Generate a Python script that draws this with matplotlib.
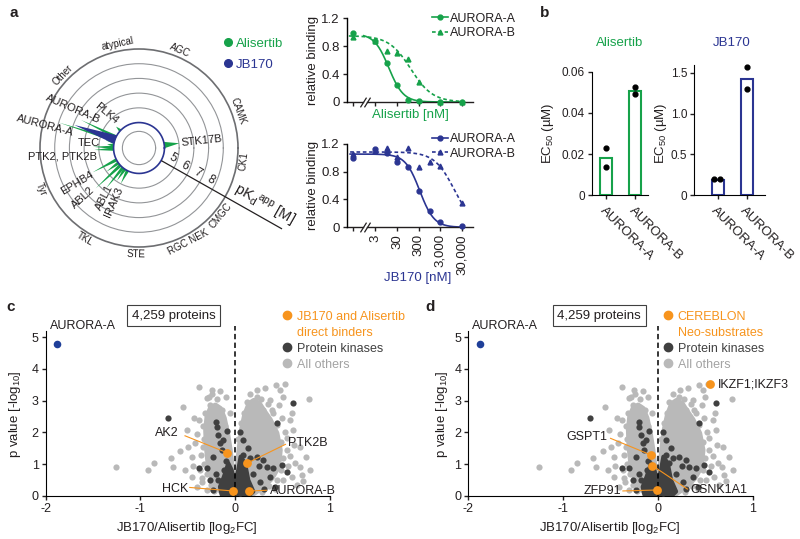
import numpy as np
import matplotlib
matplotlib.use('Agg')
import matplotlib.pyplot as plt
from matplotlib.lines import Line2D

plt.rcParams['font.family'] = ['Liberation Sans', 'DejaVu Sans']
plt.rcParams['mathtext.fontset'] = 'custom'
plt.rcParams['mathtext.rm'] = 'Liberation Sans'
plt.rcParams['mathtext.it'] = 'Liberation Sans:italic'
plt.rcParams['mathtext.bf'] = 'Liberation Sans:bold'
plt.rcParams['axes.unicode_minus'] = False

# ======================= DATA =======================
# (a) kinome target profile: angle on kinome tree circle (deg), pKd app
ali_kinases = ['AURORA-A', 'AURORA-B', 'PLK4', 'TEC', 'TEC-2', 'PTK2', 'PTK2B',
               'EPHB4', 'ABL2', 'ABL1', 'ABL-x', 'IRAK3', 'IRAK-x', 'STK17B']
ali_angle = [162.4, 154.2, 137.0, 167.0, 173.5, 178.5, 182.5,
             207.7, 223.0, 230.7, 216.0, 243.0, 236.0, 6.7]
ali_pkd = [8.0, 6.65, 4.4, 4.6, 4.45, 5.4, 5.3,
           5.83, 6.3, 5.8, 5.0, 5.0, 4.95, 5.03]
jb_kinases = ['AURORA-A']
jb_angle = [160.4]
jb_pkd = [6.94]
families = ['atypical', 'AGC', 'CAMK', 'CK1', 'CMGC', 'RGC NEK', 'STE', 'TKL', 'Tyr', 'Other']
family_angle = [101.7, 67.3, 20.1, -7.3, -39.4, -62.5, -91.6, -120.7, -157.3, 136.3]
ring_pkd = [5, 6, 7, 8]

# (a) dose response
conc_ali = [0, 3, 10, 30, 100, 300, 3000, 30000]
ali_aurA = [0.99, 0.87, 0.56, 0.24, 0.03, 0.01, 0.0, 0.0]
ali_aurB = [0.93, 0.87, 0.73, 0.70, 0.61, 0.29, 0.0, 0.0]
ali_fit_top = [0.98, 0.95]
ali_fit_ec50 = [12.5, 130.0]
ali_fit_hill = [1.29, 0.86]

conc_jb = [0, 3, 10, 30, 100, 300, 1000, 3000, 30000]
jb_aurA = [1.0, 1.12, 1.07, 0.93, 0.87, 0.52, 0.23, 0.07, 0.02]
jb_aurB = [1.05, 1.10, 1.14, 1.01, 1.14, 0.86, 0.94, 0.88, 0.35]
jb_fit_top = [1.05, 1.08]
jb_fit_ec50 = [340.0, 13700.0]
jb_fit_hill = [1.3, 0.94]

# (b) EC50 values (uM)
b_targets = ['AURORA-A', 'AURORA-B']
ali_ec50 = [0.018, 0.0507]
ali_rep1 = [0.0230, 0.0524]
ali_rep2 = [0.0138, 0.0490]
jb_ec50 = [0.19, 1.42]
jb_rep1 = [0.20, 1.57]
jb_rep2 = [0.20, 1.30]

# (c, d) volcano: log2FC, -log10 p
others_x = [-1.258, -0.917, -0.857, -0.681, -0.653, -0.583, -0.555, -0.432, -0.383, -0.530,
            -0.460, -0.372, -0.425, -0.513, -0.302, -0.267, -0.337, -0.460, -0.407, -0.302,
            -0.355, 0.233, 0.314, 0.430, 0.525, 0.472, 0.781, 0.366, 0.384, 0.489,
            0.577, 0.612, 0.542, 0.683, 0.746, 0.630, 0.788, 0.700, 0.595, 0.507,
            0.648, 0.542, 0.437, 0.226, 0.296, 0.331, 0.191, -0.33, -0.34, -0.32,
            -0.28, -0.24, -0.19, -0.14, -0.11, -0.36, -0.33, -0.30, -0.26, -0.22,
            -0.40, -0.38, -0.35, -0.45, -0.50, -0.25, 0.06, 0.09, 0.12, 0.16,
            0.27, 0.48, 0.50, 0.48, 0.44, 0.36, 0.28, 0.52, 0.40, 0.35,
            0.58, 0.62, 0.56, 0.42, 0.68, 0.72, 0.46, 0.50, 0.20, 0.03,
            -0.06, -0.10, -0.16, 0.60]
others_y = [0.91, 0.81, 1.04, 1.18, 0.91, 1.41, 2.79, 2.45, 3.44, 0.81,
            0.60, 0.81, 1.65, 2.07, 3.07, 2.86, 1.55, 1.23, 0.28, 0.18,
            0.55, 3.35, 3.39, 3.49, 3.54, 3.33, 3.04, 3.02, 2.70, 2.44,
            2.39, 2.07, 1.81, 1.55, 1.23, 1.02, 0.81, 0.65, 0.60, 0.49,
            0.34, 1.44, 2.23, 3.12, 2.70, 2.33, 2.81, 1.80, 2.20, 2.60,
            3.10, 3.20, 3.05, 2.70, 2.20, 1.30, 1.00, 0.70, 0.35, 0.15,
            1.95, 2.40, 0.42, 0.95, 1.55, 3.35, 2.30, 2.60, 2.95, 3.20,
            3.05, 1.70, 1.20, 0.80, 0.50, 0.30, 0.12, 2.00, 2.60, 2.90,
            1.25, 1.60, 0.95, 0.20, 0.90, 0.45, 2.85, 3.10, 3.00, 1.80,
            2.60, 3.10, 3.30, 2.60]
others_core_x = [-0.003, -0.126, -0.196, -0.249, -0.284, -0.302, -0.309, -0.295, -0.26, -0.21,
                 -0.16, -0.119, -0.084, -0.056, -0.031, -0.003, 0.022, 0.043, 0.068, 0.103,
                 0.148, 0.198, 0.254, 0.296, 0.366, 0.437, 0.472, 0.454, 0.384, 0.296, 0.191]
others_core_y = [0.02, 0.05, 0.28, 0.60, 1.02, 1.55, 2.07, 2.49, 2.75, 2.85,
                 2.75, 2.45, 1.97, 1.44, 0.81, 0.49, 0.81, 1.44, 2.07, 2.55,
                 2.90, 3.00, 2.90, 2.70, 2.40, 1.97, 1.44, 0.91, 0.55, 0.28, 0.07]
kin_x = [-0.713, 0.612, 0.437, -0.203, -0.196, -0.179, -0.161, -0.143, -0.231, -0.302,
         -0.379, -0.267, -0.179, -0.231, 0.050, 0.085, 0.138, 0.226, 0.296, 0.331,
         0.402, 0.489, 0.542, 0.366, 0.261, 0.191, 0.120, 0.419, 0.120, -0.10,
         -0.12, 0.08, 0.16, -0.06, 0.05, -0.20, 0.25, 0.30, -0.09, -0.13]
kin_y = [2.44, 2.91, 2.28, 2.33, 2.18, 1.91, 1.65, 1.44, 1.23, 0.86,
         0.86, 0.49, 0.49, 0.18, 2.02, 1.76, 1.49, 1.23, 1.13, 0.91,
         0.86, 0.97, 0.76, 0.60, 0.44, 0.70, 0.39, 0.28, 1.02, 1.10,
         0.80, 1.30, 1.20, 0.15, 0.10, 0.70, 0.95, 0.20, 2.05, 1.75]
kin_core_x = [-0.143, -0.161, -0.119, -0.073, -0.038, -0.003, 0.032, 0.057, 0.103, 0.138, 0.191, 0.155]
kin_core_y = [0.03, 0.28, 0.60, 1.02, 0.81, 0.39, 0.81, 1.23, 1.02, 0.49, 0.13, 0.03]
aurA_fc = [-1.88]
aurA_p = [4.78]
c_hits = ['AK2', 'PTK2B', 'HCK', 'AURORA-B']
c_hits_x = [-0.09, 0.12, -0.027, 0.148]
c_hits_y = [1.36, 1.02, 0.15, 0.15]
d_hits = ['IKZF1;IKZF3', 'GSPT1', 'CSNK1A1', 'ZFP91']
d_hits_x = [0.55, -0.07, -0.059, -0.014]
d_hits_y = [3.52, 1.28, 0.95, 0.18]

# ======================= STYLE / LAYOUT =======================
GREEN = '#16a24a'
BLUE = '#2b3592'
VBLUE = '#1f3f99'
ORANGE = '#f7941d'
DARK = '#404040'
LIGHT = '#b9b9b9'
TXT = '#231f20'
W, H = 800, 539

fig = plt.figure(figsize=(8, 5.39), dpi=100)


def P(x, y):
    return (x / W, 1 - y / H)


def rect(l, t, r, b):
    return [l / W, 1 - b / H, (r - l) / W, (b - t) / H]


def ftext(x, y, s, **kw):
    kw.setdefault('color', TXT)
    return fig.text(x / W, 1 - y / H, s, **kw)


# ---------------- panel a : kinome circle ----------------
R0, RMAX = 2.27, 9.0
CX, CY, RPX = 139, 148, 99
PXU = RPX / (RMAX - R0)
axp = fig.add_axes(rect(CX - RPX, CY - RPX, CX + RPX, CY + RPX), projection='polar')
axp.set_ylim(R0, RMAX)
axp.set_xticks([])
axp.set_yticks([3.4] + ring_pkd)
axp.set_yticklabels([])
axp.tick_params(axis='y', length=0)
axp.xaxis.grid(False)
axp.yaxis.grid(True, color='#939598', lw=0.8, ls='-')
axp.spines['polar'].set_color('#6d6e71')
axp.spines['polar'].set_linewidth(1.2)
axp.patch.set_alpha(0)

th_ring = np.linspace(0, 2 * np.pi, 400)
axp.plot(th_ring, np.full_like(th_ring, 4.0), color=BLUE, lw=1.2, zorder=4)


def spike(theta_deg, pkd, color, half_px):
    th = np.deg2rad(theta_deg)
    dth = half_px / ((4.0 - R0) * PXU)
    axp.fill([th - dth, th, th + dth], [4.0, pkd, 4.0], color=color, lw=0, zorder=3)


for a, p, n in zip(ali_angle, ali_pkd, ali_kinases):
    spike(a, p, GREEN, 3.2 if n == 'STK17B' else 1.7)
for a, p in zip(jb_angle, jb_pkd):
    spike(a, p, BLUE, 4.5)

ANG = np.deg2rad(-29.5)


def line_pt(along, perp):
    d = np.hypot(along, perp)
    return ANG + np.arctan2(perp, along), R0 + d / PXU


axp.plot([ANG, ANG], [4.05, 13.4], color=TXT, lw=0.9, clip_on=False, zorder=5)
for p in ring_pkd:
    th, r = line_pt((p - R0) * PXU - 6, 7.5)
    axp.text(th, r, str(p), rotation=-29.5, ha='center', va='center',
             rotation_mode='anchor', fontsize=8.5, color=TXT)
th, r = line_pt(103, 2)
axp.text(th, r, r'pK$_\mathregular{d}$$^\mathregular{app}$ [M]', rotation=-29.5,
         ha='left', va='bottom', rotation_mode='anchor', fontsize=10.5, color=TXT)

for name, a in zip(families, family_angle):
    rot = a - 90 if np.sin(np.deg2rad(a)) > 0 else a + 90
    axp.text(np.deg2rad(a), R0 + 106 / PXU, name, rotation=rot, ha='center', va='center',
             rotation_mode='anchor', fontsize=7, color=TXT)

for s, x, y, rot in [('AURORA-B', 72.5, 109, -23.6), ('PLK4', 106, 113.3, -40),
                     ('AURORA-A', 45, 126, -14.8), ('TEC', 89.2, 142.5, 0),
                     ('PTK2, PTK2B', 62.5, 156.5, 0), ('EPHB4', 76.7, 183.3, 31),
                     ('ABL2', 83, 198, 42), ('ABL1', 104.5, 197.5, 63),
                     ('IRAK3', 114, 202.5, 66), ('STK17B', 201.7, 140.5, 6)]:
    ftext(x, y, s, ha='center', va='center', rotation=rot, rotation_mode='anchor', fontsize=8)

leg = fig.legend([Line2D([], [], ls='', marker='o', color=GREEN, ms=5.5),
                  Line2D([], [], ls='', marker='o', color=BLUE, ms=5.5)],
                 ['Alisertib', 'JB170'], loc='upper left', bbox_to_anchor=P(223.4, 37.5),
                 frameon=False, borderpad=0, borderaxespad=0, handlelength=0.7,
                 handletextpad=0.22, labelspacing=0.69, fontsize=9.5)
leg.get_texts()[0].set_color(GREEN)
leg.get_texts()[1].set_color(BLUE)

ftext(10, 13, 'a', fontsize=11, fontweight='bold', ha='left', va='center')

# ---------------- panel a : dose response ----------------
ZERO_POS = 10 ** -0.58
XMIN, XMAX = 10 ** -0.86, 10 ** 5.02
BRK1, BRK2 = 10 ** -0.1, 10 ** 0.08


def dose_axes(top, bottom, conc, yA, yB, tops, ec50s, hills, color, starts, show_labels):
    ax = fig.add_axes(rect(346.7, top, 473.3, bottom))
    ax.set_xscale('log')
    ax.set_xlim(XMIN, XMAX)
    ax.set_ylim(0, 1.2)
    xs = [c if c > 0 else ZERO_POS for c in conc]
    styles = [('-', 'o', 3.5), ((0, (2.2, 1.6)), '^', 3.5)]
    for i, yv in enumerate([yA, yB]):
        xx = np.logspace(np.log10(starts[i]), np.log10(30000), 200)
        yy = tops[i] / (1 + (xx / ec50s[i]) ** hills[i])
        ax.plot(xx, yy, color=color, lw=1.2, ls=styles[i][0], clip_on=False)
        ax.plot(xs, yv, ls='', marker=styles[i][1], ms=styles[i][2], color=color, clip_on=False, zorder=5)
    for s in ['top', 'right', 'bottom']:
        ax.spines[s].set_visible(False)
    ax.spines['left'].set_linewidth(1.0)
    tr = ax.get_xaxis_transform()
    ax.plot([XMIN, BRK1], [0, 0], color=TXT, lw=1.0, transform=tr, clip_on=False)
    ax.plot([BRK2, XMAX], [0, 0], color=TXT, lw=1.0, transform=tr, clip_on=False)
    ax.plot([BRK1, BRK2], [0, 0], ls='', marker=[(-1, -1.6), (1, 1.6)], ms=7, mec=TXT, mew=0.9,
            transform=tr, clip_on=False)
    ax.xaxis.set_minor_locator(matplotlib.ticker.NullLocator())
    ax.set_xticks([ZERO_POS, 3, 30, 300, 3000, 30000])
    if show_labels:
        ax.set_xticklabels(['', '3', '30', '300', '3,000', '30,000'], rotation=90, fontsize=9.5)
    else:
        ax.set_xticklabels([])
    ax.set_yticks([0, 0.4, 0.8, 1.2])
    ax.set_yticklabels(['0', '0.4', '0.8', '1.2'], fontsize=9.5)
    ax.tick_params(direction='out', length=3, width=1.0, colors=TXT, pad=2)
    ax.patch.set_alpha(0)
    return ax


dose_axes(18.3, 102.0, conc_ali, ali_aurA, ali_aurB, ali_fit_top, ali_fit_ec50, ali_fit_hill,
          GREEN, [10 ** -0.07, 10 ** -0.76], False)
dose_axes(143.6, 227.3, conc_jb, jb_aurA, jb_aurB, jb_fit_top, jb_fit_ec50, jb_fit_hill,
          BLUE, [10 ** -0.7, 10 ** -0.7], True)

ftext(313, 60, 'relative binding', rotation=90, ha='center', va='center', fontsize=9.5)
ftext(313, 185, 'relative binding', rotation=90, ha='center', va='center', fontsize=9.5)
ftext(410, 115, 'Alisertib [nM]', ha='center', va='center', fontsize=9.5, color=GREEN)
ftext(417.5, 278.3, 'JB170 [nM]', ha='center', va='center', fontsize=9.5, color=BLUE)

for ytop, color in [(12.7, GREEN), (133.0, BLUE)]:
    lg = fig.legend([Line2D([], [], ls='-', marker='o', color=color, ms=3.5, lw=1.2),
                     Line2D([], [], ls=(0, (2.2, 1.6)), marker='^', color=color, ms=3.5, lw=1.2)],
                    ['AURORA-A', 'AURORA-B'], loc='upper left', bbox_to_anchor=P(431.7, ytop),
                    frameon=False, borderpad=0, borderaxespad=0, handlelength=1.33,
                    handletextpad=0.15, labelspacing=0.21, fontsize=9)
    for t in lg.get_texts():
        t.set_color(TXT)

# ---------------- panel b ----------------
ftext(540, 13, 'b', fontsize=11, fontweight='bold', ha='left', va='center')


def bar_axes(l, r, top, ymax, xlim, means, rep1, rep2, offs, color, yt, ytl, title, tx):
    ax = fig.add_axes(rect(l, top, r, 195.3))
    ax.set_xlim(*xlim)
    ax.set_ylim(0, ymax)
    ax.bar([0, 1], means, width=0.42, facecolor='white', edgecolor=color, lw=1.5, zorder=2)
    ax.scatter(np.array([0, 1]) + np.array(offs[0]), rep1, s=12, color='black', zorder=3, clip_on=False)
    ax.scatter(np.array([0, 1]) + np.array(offs[1]), rep2, s=12, color='black', zorder=3, clip_on=False)
    for s in ['top', 'right']:
        ax.spines[s].set_visible(False)
    ax.set_yticks(yt)
    ax.set_yticklabels(ytl, fontsize=8.5)
    ax.set_xticks([0, 1])
    ax.set_xticklabels(b_targets, rotation=-45, ha='left', va='top', rotation_mode='anchor', fontsize=9.5)
    ax.tick_params(direction='out', length=3, width=1.0, colors=TXT, pad=2)
    ax.tick_params(axis='x', pad=4)
    ax.patch.set_alpha(0)
    ftext(tx, 43.3, title, color=color, ha='center', va='center', fontsize=9.5)
    return ax


bar_axes(591.7, 648.3, 71.7, 0.06, (-0.5, 1.45), ali_ec50, ali_rep1, ali_rep2,
         [(0, 0), (0, 0)], GREEN, [0, 0.02, 0.04, 0.06], ['0', '0.02', '0.04', '0.06'],
         'Alisertib', 620)
bar_axes(694, 765, 64.5, 1.6, (-0.82, 1.63), jb_ec50, jb_rep1, jb_rep2,
         [(-0.12, 0), (0.08, 0)], BLUE, [0, 0.5, 1.0, 1.5], ['0', '0.5', '1.0', '1.5'],
         'JB170', 731.7)
ftext(548, 133, r'EC$_\mathregular{50}$ (µM)', rotation=90, ha='center', va='center', fontsize=9.5)
ftext(661, 133, r'EC$_\mathregular{50}$ (µM)', rotation=90, ha='center', va='center', fontsize=9.5)

# ---------------- panels c, d : volcano ----------------


def volcano(l, r, hx, hy, names, specs, leg_labels, leg_left, box_x, letter, letter_x, ylab_x, xlab_x):
    ax = fig.add_axes(rect(l, 330.9, r, 495.7))
    ax.set_xlim(-2, 1)
    ax.set_ylim(0, 5.2)
    ax.fill(others_core_x, others_core_y, color=LIGHT, lw=4, joinstyle='round', zorder=1)
    ax.scatter(others_x, others_y, s=20, color=LIGHT, lw=0, zorder=2)
    ax.fill(kin_core_x, kin_core_y, color=DARK, lw=3, joinstyle='round', zorder=3)
    ax.scatter(kin_x, kin_y, s=20, color=DARK, lw=0, zorder=4)
    ax.axvline(0, ymin=0, ymax=1.03, color='black', lw=1.1, ls=(0, (3.5, 2.2)), zorder=5, clip_on=False)
    ax.scatter(aurA_fc, aurA_p, s=30, color=VBLUE, lw=0, zorder=6, clip_on=False)
    ax.text(-1.61, 5.36, 'AURORA-A', ha='center', va='center', fontsize=9, color=TXT)
    ax.scatter(hx, hy, s=40, color=ORANGE, lw=0, zorder=7, clip_on=False)
    for (tx, ty, ha, lx, ly), x0, y0, n in zip(specs, hx, hy, names):
        ax.text(tx, ty, n, ha=ha, va='center', fontsize=9, color=TXT, zorder=8)
        if lx is not None:
            ax.plot([lx, x0], [ly, y0], color=ORANGE, lw=0.8, zorder=6)
    for s in ['top', 'right']:
        ax.spines[s].set_visible(False)
    ax.set_xticks([-2, -1, 0, 1])
    ax.set_yticks([0, 1, 2, 3, 4, 5])
    ax.tick_params(direction='out', length=3, width=1.0, colors=TXT, labelsize=9, pad=2)
    ax.patch.set_alpha(0)
    ftext(ylab_x, 414, r'p value [-log$_\mathregular{10}$]', rotation=90, ha='center', va='center', fontsize=9.5)
    ftext(xlab_x, 527.7, r'JB170/Alisertib [log$_\mathregular{2}$FC]', ha='center', va='center', fontsize=9.5)
    ftext(box_x, 315.8, '4,259 proteins', ha='center', va='center', fontsize=9.5,
          bbox=dict(boxstyle='square,pad=0.35', fc='white', ec='#404040', lw=0.8))
    ftext(letter_x, 306.7, letter, fontsize=11, fontweight='bold', ha='left', va='center')
    hs = [Line2D([], [], ls='', marker='o', color=ORANGE, ms=6),
          Line2D([], [], ls='', marker=None),
          Line2D([], [], ls='', marker='o', color=DARK, ms=6),
          Line2D([], [], ls='', marker='o', color=LIGHT, ms=6)]
    lg = fig.legend(hs, leg_labels, loc='upper left', bbox_to_anchor=P(leg_left, 310.5),
                    frameon=False, borderpad=0, borderaxespad=0, handlelength=0.8,
                    handletextpad=0.35, labelspacing=0.32, fontsize=9)
    for t, c in zip(lg.get_texts(), [ORANGE, ORANGE, DARK, '#a3a3a3']):
        t.set_color(c)
    return ax


volcano(45.7, 330.0, c_hits_x, c_hits_y, c_hits,
        [(-0.60, 1.97, 'right', -0.53, 1.89), (0.56, 1.65, 'left', 0.53, 1.62),
         (-0.50, 0.21, 'right', -0.48, 0.26), (0.365, 0.16, 'left', 0.33, 0.17)],
        ['JB170 and Alisertib', 'direct binders', 'Protein kinases', 'All others'],
        282.3, 173.8, 'c', 6, 15, 186.7)
volcano(468.3, 752.8, d_hits_x, d_hits_y, d_hits,
        [(0.63, 3.52, 'left', None, None), (-0.53, 1.86, 'right', -0.50, 1.81),
         (0.34, 0.18, 'left', 0.31, 0.21), (-0.39, 0.15, 'right', -0.37, 0.15)],
        ['CEREBLON', 'Neo-substrates', 'Protein kinases', 'All others'],
        663.3, 599.2, 'd', 425, 441.7, 610)

fig.savefig('out.png', dpi=100)
